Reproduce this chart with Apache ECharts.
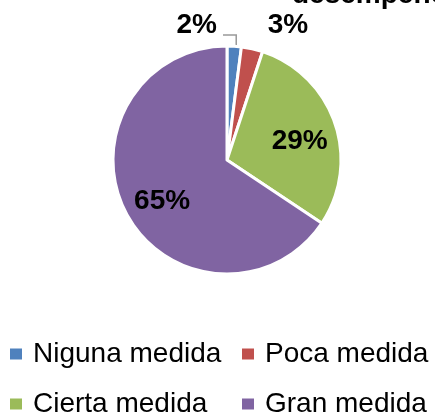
<!DOCTYPE html>
<html>
<head>
<meta charset="utf-8">
<script src="https://cdn.jsdelivr.net/npm/echarts@6/dist/echarts.min.js"></script>
<style>
  html, body { margin: 0; padding: 0; background: #fff; }
  #chart { width: 435px; height: 419px; }
</style>
</head>
<body>
<div id="chart"></div>
<script>
// Response categories and their shares (%)
const categories = ['Niguna medida', 'Poca medida', 'Cierta medida', 'Gran medida'];
const shares = [2, 3, 29, 65];
const colors = ['#4F81BD', '#C0504D', '#9BBB59', '#8064A2'];
const titleText = 'desempeño';

const FONT = '"Liberation Sans", Arial, sans-serif';

const chart = echarts.init(document.getElementById('chart'), null, { renderer: 'canvas' });

const pieData = categories.map((name, i) => ({
  name,
  value: shares[i],
  itemStyle: { color: colors[i] },
  label: { position: i < 2 ? 'outside' : 'inside' },
  labelLine: { show: i === 0 }
}));

const legendBase = {
  orient: 'vertical',
  icon: 'rect',
  itemWidth: 14,
  itemHeight: 13,
  itemGap: 22,
  top: 340,
  height: 79,
  padding: 0,
  selectedMode: false,
  textStyle: {
    fontFamily: FONT,
    fontSize: 28,
    lineHeight: 28,
    color: '#000',
    padding: [0, 0, 0, 5]
  }
};

chart.setOption({
  animation: false,
  graphic: [{
    type: 'text',
    left: 292,
    top: -19,
    style: {
      text: titleText,
      font: 'bold 28px ' + FONT,
      fill: '#000'
    }
  }],
  legend: [
    Object.assign({}, legendBase, { left: 8, data: [categories[0], categories[2]] }),
    Object.assign({}, legendBase, { left: 240, data: [categories[1], categories[3]] })
  ],
  series: [{
    type: 'pie',
    center: [227, 160],
    radius: [0, 114],
    startAngle: 90,
    clockwise: true,
    avoidLabelOverlap: false,
    itemStyle: { borderColor: '#fff', borderWidth: 3 },
    label: {
      formatter: p => p.value + '%',
      fontFamily: FONT,
      fontWeight: 'bold',
      fontSize: 28,
      color: '#000'
    },
    labelLine: {
      lineStyle: { color: '#999', width: 1.5 }
    },
    labelLayout: function (params) {
      const i = params.dataIndex;
      const pts = params.labelLinePoints;
      if (i === 0 && pts) {
        const p0 = pts[0];
        const yLine = 35;
        return {
          x: 217, y: 25, align: 'right', verticalAlign: 'middle',
          labelLinePoints: [[p0[0] + 2, p0[1] - 1], [p0[0] + 2, yLine], [223, yLine]]
        };
      }
      if (i === 1) {
        return { x: 288, y: 25, align: 'center', verticalAlign: 'middle' };
      }
      if (i === 2) return { dx: 16, dy: 1 };
      if (i === 3) return { dx: -12, dy: 13 };
      return {};
    },
    data: pieData
  }]
});
</script>
</body>
</html>
